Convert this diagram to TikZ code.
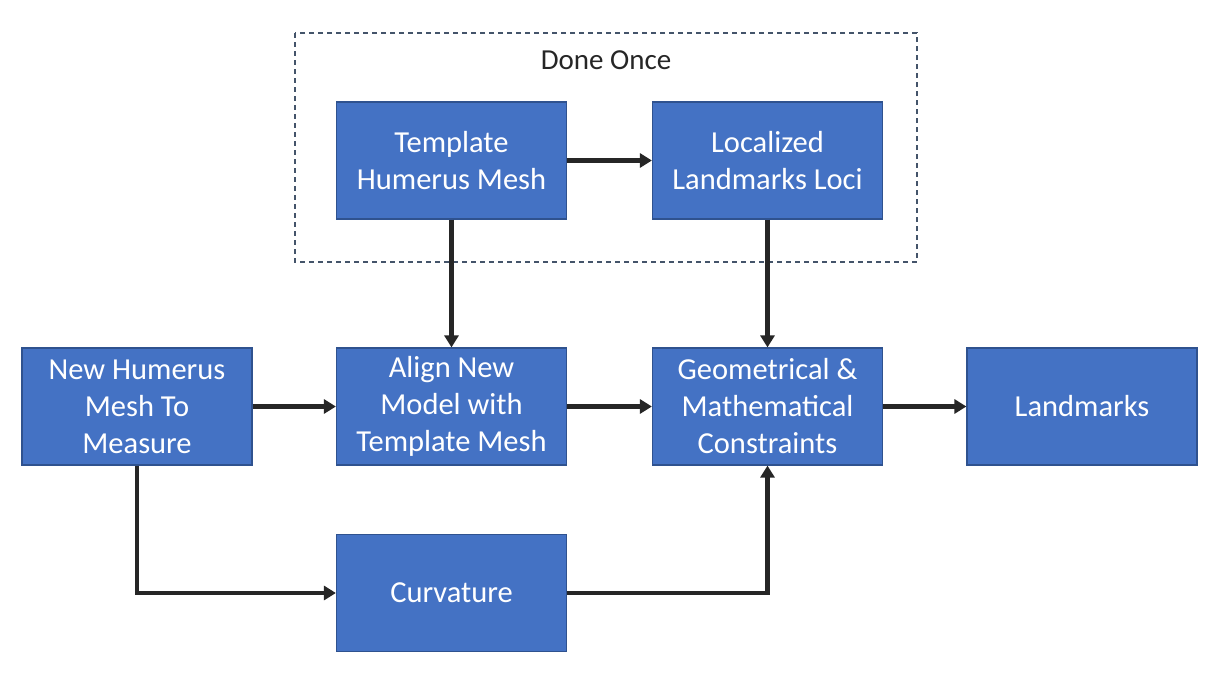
\documentclass[tikz,border=0pt]{standalone}
\usepackage{fontspec}
\setmainfont{Carlito}
\usetikzlibrary{arrows.meta}
\definecolor{boxfill}{HTML}{4472C4}
\definecolor{boxline}{HTML}{2F528F}
\definecolor{dashline}{HTML}{44546A}
\definecolor{labeltext}{HTML}{262626}
\tikzset{
  stepbox/.style={draw=boxline, line width=1.2pt, fill=boxfill, text=white,
    minimum width=230pt, minimum height=117pt, inner sep=2pt, align=center,
    font=\fontsize{30.5}{37}\selectfont},
  flow/.style={line width=4.2pt, draw=black!85,
    -{Triangle[length=12pt,width=14pt]}},
  group/.style={draw=dashline, line width=1.3pt, dash pattern=on 5pt off 4pt}
}
\begin{document}
\begin{tikzpicture}[x=1pt,y=-1pt]
  \useasboundingbox (0,0) rectangle (1208,675);
  \fill[white] (0,0) rectangle (1208,675);

  % the part of the pipeline that runs only once
  \draw[group] (295,33) rectangle (917,262);
  \node[text=labeltext, font=\fontsize{29}{35}\selectfont] (once) at (606,60) {Done Once};

  \node[stepbox] (tmpl)  at (451.5,160.5) {Template\\Humerus Mesh};
  \node[stepbox] (loci)  at (767.5,160.5) {Localized\\Landmarks Loci};
  \node[stepbox] (newm)  at (137,406.5)   {New Humerus\\Mesh To\\Measure};
  \node[stepbox] (align) at (451.5,406.5) {Align New\\Model with\\Template Mesh};
  \node[stepbox] (geom)  at (767.5,406.5) {Geometrical \&\\Mathematical\\Constraints};
  \node[stepbox] (land)  at (1082,406.5)  {Landmarks};
  \node[stepbox] (curv)  at (451.5,593)   {Curvature};

  \draw[flow] (tmpl.east) -- (loci.west);
  \draw[flow] (tmpl.south) -- (align.north);
  \draw[flow] (loci.south) -- (geom.north);
  \draw[flow] (newm.east) -- (align.west);
  \draw[flow] (align.east) -- (geom.west);
  \draw[flow] (geom.east) -- (land.west);
  \draw[flow] (newm.south) |- (curv.west);
  \draw[flow] (curv.east) -| (geom.south);
\end{tikzpicture}
\end{document}
